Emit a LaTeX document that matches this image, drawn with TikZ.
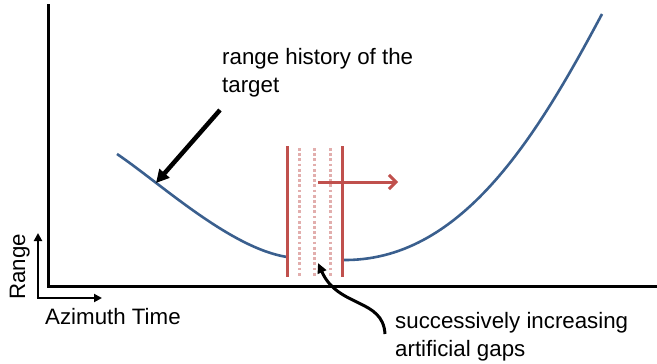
\documentclass[tikz,border=0pt]{standalone}
\usepackage{fontspec}
\setmainfont{Liberation Sans}
\usetikzlibrary{arrows.meta}
\definecolor{curveblue}{HTML}{3A5F8E}
\definecolor{gapred}{HTML}{C0504D}
\definecolor{gappink}{HTML}{E2AEAD}
\tikzset{
  lbl/.style={inner sep=0pt, font=\fontsize{22.3}{27.5}\selectfont, align=left},
  axis/.style={line width=3pt, line cap=rect},
  smallaxis/.style={line width=2.4pt, -{Triangle[length=8pt,width=8pt]}},
  curve/.style={curveblue, line width=2.6pt},
  gapsolid/.style={gapred, line width=3pt},
  gapdot/.style={gappink, line width=3pt, dash pattern=on 2.8pt off 2.4pt},
  pointer/.style={line width=4.5pt, -{Triangle[length=13pt,width=13pt]}},
  pointerthin/.style={line width=3pt, -{Triangle[length=10pt,width=9pt]}},
  shiftarrow/.style={gapred, line width=3pt, -{Straight Barb[length=7pt,width=14pt,line width=3pt]}}
}
\begin{document}
\begin{tikzpicture}[x=1pt,y=-1pt]
\useasboundingbox (0,0) rectangle (657,364);
% main axes
\coordinate (o) at (48,286);
\coordinate (ytop) at (48,5);
\coordinate (xend) at (657,286);
\draw[axis] (ytop) -- (o) -- (xend);
% small axes
\coordinate (so) at (38,298);
\coordinate (sy) at (38,233);
\coordinate (sx) at (102,298);
\draw[smallaxis] (so) -- (sy);
\draw[smallaxis] ([xshift=-1.2pt]so) -- (sx);
\node[lbl, rotate=90, anchor=base west] (rlab) at (25,300) {Range};
\node[lbl, anchor=base west] (alab) at (45,324) {Azimuth Time};
% range history curve
\coordinate (c1) at (117,154);
\coordinate (c2) at (287,257);
\coordinate (c3) at (342,260);
\coordinate (c4) at (602,14);
\draw[curve] (c1) .. controls (160,183) and (230,248) .. (c2);
\draw[curve] (c3) .. controls (460,262) and (535,140) .. (c4);
% gap lines
\coordinate (g1t) at (287,146); \coordinate (g1b) at (287,277);
\coordinate (g5t) at (342,146); \coordinate (g5b) at (342,277);
\coordinate (g2t) at (299,148); \coordinate (g2b) at (299,277);
\coordinate (g3t) at (314,148); \coordinate (g3b) at (314,277);
\coordinate (g4t) at (330,148); \coordinate (g4b) at (330,277);
\draw[gapdot] (g2t) -- (g2b);
\draw[gapdot] (g3t) -- (g3b);
\draw[gapdot] (g4t) -- (g4b);
\draw[gapsolid] (g1t) -- (g1b);
\draw[gapsolid] (g5t) -- (g5b);
\coordinate (sa) at (318,182);
\coordinate (sb) at (398,182);
\draw[shiftarrow] (sa) -- (sb);
% labels and pointers
\node[lbl, anchor=base west] (hist) at (222,92) {range history of the\\target};
\coordinate (p1s) at (220,110);
\coordinate (p1e) at (156,183);
\draw[pointer] (p1s) -- (p1e);
\node[lbl, anchor=base west] (gaps) at (395,356) {successively increasing\\artificial gaps};
\coordinate (p2s) at (385,334);
\coordinate (p2e) at (318,263);
\draw[pointerthin] (p2s) .. controls (383,298) and (338,308) .. (p2e);
\end{tikzpicture}
\end{document}
